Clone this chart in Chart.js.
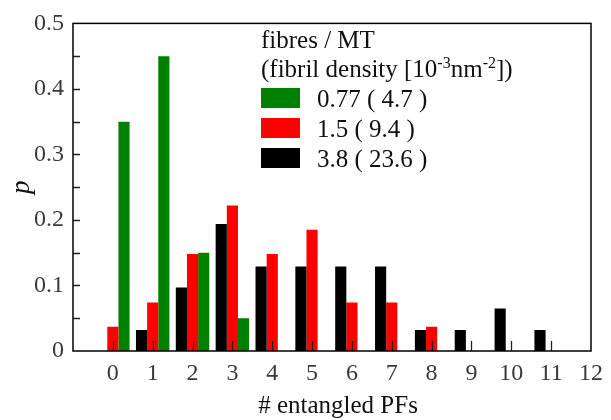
<!DOCTYPE html>
<html>
<head>
<meta charset="utf-8">
<script src="https://cdn.jsdelivr.net/npm/chart.js@4"></script>
<style>
html,body{margin:0;padding:0;background:#fff;}
#wrap{width:611px;height:420px;position:relative;}
</style>
</head>
<body>
<div id="wrap"><canvas id="c"></canvas></div>
<script>
const categories = [0, 1, 2, 3, 4, 5, 6, 7, 8, 9, 10, 11];
const seriesGreen = [0.35, 0.45, 0.15, 0.05, 0, 0, 0, 0, 0, 0, 0, 0];
const seriesRed = [0.037, 0.074, 0.148, 0.222, 0.148, 0.185, 0.074, 0.074, 0.037, 0, 0, 0];
const seriesBlack = [0, 0.032, 0.097, 0.194, 0.129, 0.129, 0.129, 0.129, 0.032, 0.032, 0.065, 0.032];
const legendLabels = ['0.77 ( 4.7 )', '1.5 ( 9.4 )', '3.8 ( 23.6 )'];
const legendColors = ['#008000', '#ff0000', '#000000'];
const xTickLabels = ['0','1','2','3','4','5','6','7','8','9','10','11','12'];
const yTickLabels = ['0','0.1','0.2','0.3','0.4','0.5'];
const xTitle = '# entangled PFs';
const yTitle = 'p';
const legendTitle1 = 'fibres / MT';
const legendTitle2 = [['(fibril density [10', false], ['-3', true], ['nm', false], ['-2', true], ['])', false]];

const FONT = '"Liberation Serif", "Times New Roman", Times, serif';

function pts(vals){ return categories.map((c,i)=>({x:c, y:vals[i]})); }

const framePlugin = {
  id:'frame',
  afterDatasetsDraw(chart){
    const {ctx, chartArea:a, scales:{x,y}} = chart;
    ctx.save();
    ctx.strokeStyle = '#222';
    ctx.lineWidth = 1.3;
    ctx.beginPath();
    for (let i = 0; i < xTickLabels.length - 1; i++){
      const px = Math.round(x.getPixelForValue(Number(xTickLabels[i]))) + 0.5;
      ctx.moveTo(px, a.bottom); ctx.lineTo(px, a.bottom - 10);
    }
    for (let k = 1; k < 10; k++){
      const py = Math.round(y.getPixelForValue(k * 0.05)) + 0.5;
      ctx.moveTo(a.left, py); ctx.lineTo(a.left + 7, py);
    }
    ctx.stroke();
    ctx.strokeStyle = '#000';
    ctx.lineWidth = 1.5;
    ctx.strokeRect(a.left, a.top, a.right - a.left, a.bottom - a.top);
    ctx.restore();
  },
  afterDraw(chart){
    const ctx = chart.ctx;
    const a = chart.chartArea;
    ctx.save();
    ctx.fillStyle = '#111';
    ctx.textBaseline = 'alphabetic';
    ctx.font = '25px ' + FONT;
    ctx.textAlign = 'center';
    ctx.fillText(xTitle, (a.left + a.right) / 2 + 6, 413);
    ctx.textAlign = 'left';
    ctx.fillText(legendTitle1, 261, 48);
    let xx = 261;
    for (const [t, sup] of legendTitle2){
      ctx.font = (sup ? '16px ' : '25px ') + FONT;
      ctx.fillText(t, xx, sup ? 68 : 77);
      xx += ctx.measureText(t).width;
    }
    ctx.font = '25px ' + FONT;
    for (let i = 0; i < legendLabels.length; i++){
      const top = 88 + i * 30;
      ctx.fillStyle = legendColors[i];
      ctx.fillRect(261, top, 39, 20);
      ctx.fillStyle = '#111';
      ctx.fillText(legendLabels[i], 317, top + 19);
    }
    ctx.restore();
  }
};

new Chart(document.getElementById('c'), {
  type:'bar',
  data:{
    datasets:[
      {label:legendLabels[2], data:pts(seriesBlack), backgroundColor:legendColors[2], borderWidth:0},
      {label:legendLabels[1], data:pts(seriesRed), backgroundColor:legendColors[1], borderWidth:0},
      {label:legendLabels[0], data:pts(seriesGreen), backgroundColor:legendColors[0], borderWidth:0}
    ]
  },
  options:{
    responsive:true,
    maintainAspectRatio:false,
    animation:false,
    categoryPercentage:0.84,
    barPercentage:1.0,
    layout:{padding:{left:0, right:11, top:10, bottom:0}},
    plugins:{legend:{display:false}, tooltip:{enabled:false}},
    scales:{
      x:{
        type:'linear', min:-1, max:12, offset:false,
        grid:{display:false, drawTicks:false},
        border:{display:false},
        ticks:{stepSize:1, autoSkip:false, maxRotation:0, padding:8, color:'#3a3a3a',
          font:{family:FONT, size:24},
          callback:(v)=> (v < 0 ? '' : xTickLabels[v])},
        title:{display:false},
        afterFit:(s)=>{ s.height = 69; }
      },
      y:{
        min:0, max:0.5,
        grid:{display:false, drawTicks:false},
        border:{display:false},
        ticks:{stepSize:0.1, padding:9, color:'#3a3a3a',
          font:{family:FONT, size:24},
          callback:(v, i)=> yTickLabels[i]},
        title:{display:true, text:yTitle, color:'#111', font:{family:FONT, size:27, style:'italic'}, padding:{top:6, bottom:0}},
        afterFit:(s)=>{ s.width = 73; }
      }
    }
  },
  plugins:[framePlugin]
});
</script>
</body>
</html>
